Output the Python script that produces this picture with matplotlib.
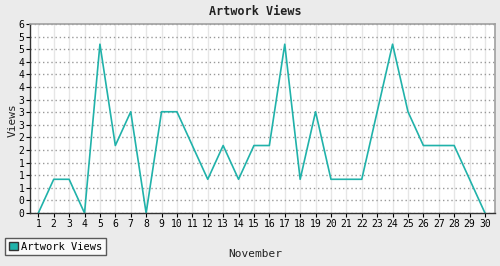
import matplotlib.pyplot as plt
import numpy as np

days = list(range(1, 31))
views = [0, 1, 1, 0, 5, 2, 3, 0, 3, 3, 2, 1, 2, 1, 2, 2, 5, 1, 3, 1,
         1, 1, 3, 5, 3, 2, 2, 2, 1, 0]
series_name = "Artwork Views"
title = "Artwork Views"
x_label = "November"
y_label = "Views"
y_top = 5.6

plt.rcParams['font.family'] = ['DejaVu Sans Mono']

fig = plt.figure(figsize=(5, 2.66), dpi=100, facecolor='#ebebeb')
ax = fig.add_axes([0.06, 0.199, 0.93, 0.711])
ax.set_facecolor('white')

teal = '#20b2aa'
ax.plot(days, views, color=teal, linewidth=1.2)

ax.set_xlim(0.46, 30.65)
ax.set_ylim(0, y_top)

ax.set_xticks(days)
ax.set_xticklabels([str(d) for d in days], fontsize=7)
yt = np.linspace(0, y_top, 16)
ax.set_yticks(yt)
ax.set_yticklabels([str(int(round(v))) for v in yt], fontsize=7)
ax.tick_params(length=3, pad=1, width=0.8)

ax.grid(axis='x', color='#e6e6e6', linewidth=1, linestyle='-')
ax.grid(axis='y', color='#999999', linewidth=1, linestyle=(0, (1, 2)))
ax.set_axisbelow(True)

for s in ['top', 'right']:
    ax.spines[s].set_color('#a0a0a0')
    ax.spines[s].set_linewidth(1.2)
for s in ['left', 'bottom']:
    ax.spines[s].set_color('#333333')
    ax.spines[s].set_linewidth(1)

fig.text(0.51, 0.955, title, ha='center', va='center', fontsize=8.5,
         fontweight='bold', color='#222222')
fig.text(0.51, 0.045, x_label, ha='center', va='center', fontsize=8, color='#222222')
fig.text(0.025, 0.55, y_label, ha='center', va='center', rotation=90,
         fontsize=8, color='#222222')

handle = plt.Rectangle((0, 0), 1, 1, facecolor=teal, edgecolor='#333333')
leg = fig.legend([handle], [series_name], loc='lower left',
                 bbox_to_anchor=(0.01, 0.04), fontsize=7.5, frameon=True,
                 fancybox=False, handlelength=0.9, handleheight=0.9,
                 handletextpad=0.3, borderpad=0.35, borderaxespad=0)
leg.get_frame().set_edgecolor('#333333')
leg.get_frame().set_linewidth(1)

fig.savefig('out.png', dpi=100, facecolor=fig.get_facecolor())
